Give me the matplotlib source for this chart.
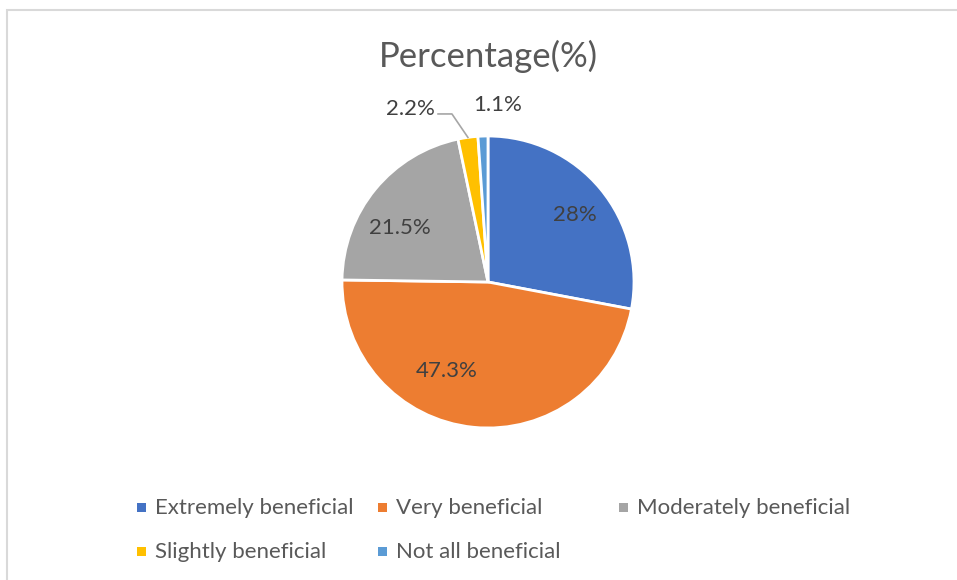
import numpy as np
import matplotlib
matplotlib.use('Agg')
import matplotlib.pyplot as plt
from matplotlib.patches import Rectangle

plt.rcParams['font.family'] = ['Lato', 'DejaVu Sans']

categories = ['Extremely beneficial', 'Very beneficial', 'Moderately beneficial',
              'Slightly beneficial', 'Not all beneficial']
values = [28, 47.3, 21.5, 2.2, 1.1]
labels = ['28%', '47.3%', '21.5%', '2.2%', '1.1%']
colors = ['#4472C4', '#ED7D31', '#A5A5A5', '#FFC000', '#5B9BD5']

W, H = 957, 580
fig = plt.figure(figsize=(W / 100, H / 100), dpi=100)

# chart border (light grey, like the Excel chart area)
fig.patches.append(Rectangle((7 / W, -0.05), 1.1, 1 - 10 / H + 0.05, transform=fig.transFigure,
                             fill=False, edgecolor='#D9D9D9', linewidth=1.5))

# pie axes: centre (488, 282), radius 146 px
cx, cy, r = 488, 282, 146
ax = fig.add_axes([(cx - r) / W, 1 - (cy + r) / H, 2 * r / W, 2 * r / H])

wedges, _ = ax.pie(values, colors=colors, startangle=90, counterclock=False,
                   radius=1, wedgeprops=dict(edgecolor='white', linewidth=2))
ax.set_xlim(-1, 1)
ax.set_ylim(-1, 1)
ax.axis('off')

# data labels: (radius, angle offset in degrees) per slice
total = sum(values)
cum = np.cumsum([0] + values[:-1])
mids = [(c + v / 2) / total * 360 for c, v in zip(cum, values)]
inside = {0: (0.75, 2), 1: (0.67, 19), 2: (0.71, -8)}
for i, (m, lab) in enumerate(zip(mids, labels)):
    if i in inside:
        rr, off = inside[i]
        a = np.radians(m + off)
        ax.text(rr * np.sin(a), rr * np.cos(a), lab, ha='center', va='center',
                fontsize=16, color='#404040')

# outside labels for the small slices
a = np.radians(mids[3])
p0 = (np.sin(a), np.cos(a))
ax.plot([p0[0], -0.247, -0.342], [p0[1], 1.151, 1.151], color='#A6A6A6',
        linewidth=1.2, clip_on=False)
ax.text(-0.53, 1.185, labels[3], ha='center', va='center', fontsize=16,
        color='#404040', clip_on=False)
ax.text(0.068, 1.21, labels[4], ha='center', va='center', fontsize=16,
        color='#404040', clip_on=False)

fig.text(cx / W, 1 - 56 / H, 'Percentage(%)', ha='center', va='center',
         fontsize=25, color='#595959')

# legend, laid out on an Excel-like grid
for i, (cat, col) in enumerate(zip(categories, colors)):
    row, c = divmod(i, 3)
    x0 = 137 + 241 * c
    y0 = 507 + 44 * row
    fig.patches.append(Rectangle((x0 / W, 1 - (y0 + 4.5) / H), 9 / W, 9 / H,
                                 transform=fig.transFigure, facecolor=col,
                                 edgecolor='none'))
    fig.text((x0 + 18) / W, 1 - (y0 + 1) / H, cat, ha='left', va='center',
             fontsize=16, color='#595959')

fig.savefig('out.png', dpi=100)
